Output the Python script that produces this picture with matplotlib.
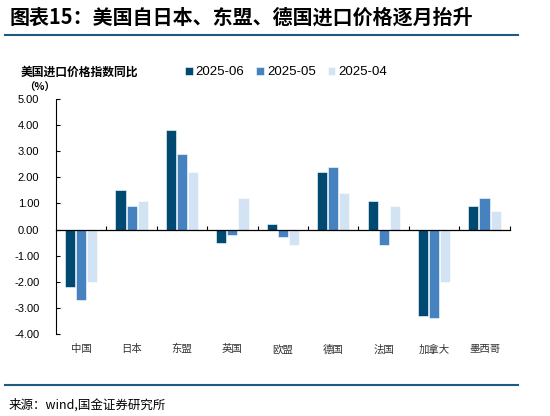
import matplotlib

matplotlib.use("Agg")
import matplotlib.pyplot as plt
import matplotlib.transforms as mtransforms
import numpy as np

plt.rcParams["font.family"] = ["Noto Sans CJK SC", "DejaVu Sans"]

# Data
countries = ["中国", "日本", "东盟", "英国", "欧盟", "德国", "法国", "加拿大", "墨西哥"]
series_names = ["2025-06", "2025-05", "2025-04"]
jun_2025 = [-2.2, 1.5, 3.8, -0.5, 0.2, 2.2, 1.1, -3.3, 0.9]
may_2025 = [-2.7, 0.9, 2.9, -0.2, -0.3, 2.4, -0.6, -3.4, 1.2]
apr_2025 = [-2.0, 1.1, 2.2, 1.2, -0.6, 1.4, 0.9, -2.0, 0.7]
y_ticks = [5, 4, 3, 2, 1, 0, -1, -2, -3, -4]

colors = ["#004A72", "#4681C0", "#D2E3F3"]
line_color = "#1E5B82"

fig = plt.figure(figsize=(5.5, 4.16), dpi=100)
ax = fig.add_axes([0.1018, 0.197, 0.825, 0.565])

x = np.arange(len(countries))
width = 0.2
step = 0.22
for i, (vals, name) in enumerate(zip([jun_2025, may_2025, apr_2025], series_names)):
    ax.bar(x + (i - 1) * step, vals, width=width, color=colors[i],
           edgecolor="white", linewidth=0.4, label=name, zorder=2)

ax.set_xlim(-0.5, len(countries) - 0.5)
ax.set_ylim(-4, 5)
ax.set_yticks(y_ticks)
ax.set_yticklabels([f"{v:.2f}" for v in y_ticks], family="Liberation Sans", fontsize=8)
ax.tick_params(axis="y", direction="in", length=3, width=0.8, pad=12)

# x axis sits at zero, ticks at category boundaries
ax.spines["bottom"].set_position(("data", 0))
ax.spines["top"].set_visible(False)
ax.spines["right"].set_visible(False)
ax.spines["bottom"].set_linewidth(0.9)
ax.spines["left"].set_linewidth(0.8)
ax.set_xticks(np.arange(0.5, len(countries), 1.0))
ax.set_xticklabels([])
ax.tick_params(axis="x", direction="in", length=3, width=0.8)

trans = mtransforms.blended_transform_factory(ax.transData, ax.transAxes)
for xi, name in zip(x, countries):
    ax.text(xi, -0.065, name, transform=trans, ha="center", va="center",
            fontsize=7.5, color="#333333", fontweight="light")

# Title, lines and captions
fig.text(0.018, 0.958, "图表15：美国自日本、东盟、德国进口价格逐月抬升",
         fontsize=14.4, fontweight="bold", style="italic", va="center", ha="left")
fig.add_artist(plt.Line2D([0.009, 0.942], [0.916, 0.916], color=line_color, lw=1.5))
fig.add_artist(plt.Line2D([0.009, 0.942], [0.075, 0.075], color=line_color, lw=1.5))
fig.text(0.015, 0.027, "来源：wind,国金证券研究所", fontsize=9, va="center", ha="left")

fig.text(0.038, 0.826, "美国进口价格指数同比", fontsize=8.5, fontweight="bold",
         va="center", ha="left")
fig.text(0.043, 0.788, "（%）", fontsize=7.5, fontweight="bold", va="center", ha="left")

ax.legend(loc="center", bbox_to_anchor=(0.52, 0.826), bbox_transform=fig.transFigure,
          ncol=3, frameon=False, handlelength=0.6, handleheight=0.6,
          handletextpad=0.2, columnspacing=0.9, prop={"family": "Liberation Sans", "size": 9.5})

fig.savefig("out.png", dpi=100)
